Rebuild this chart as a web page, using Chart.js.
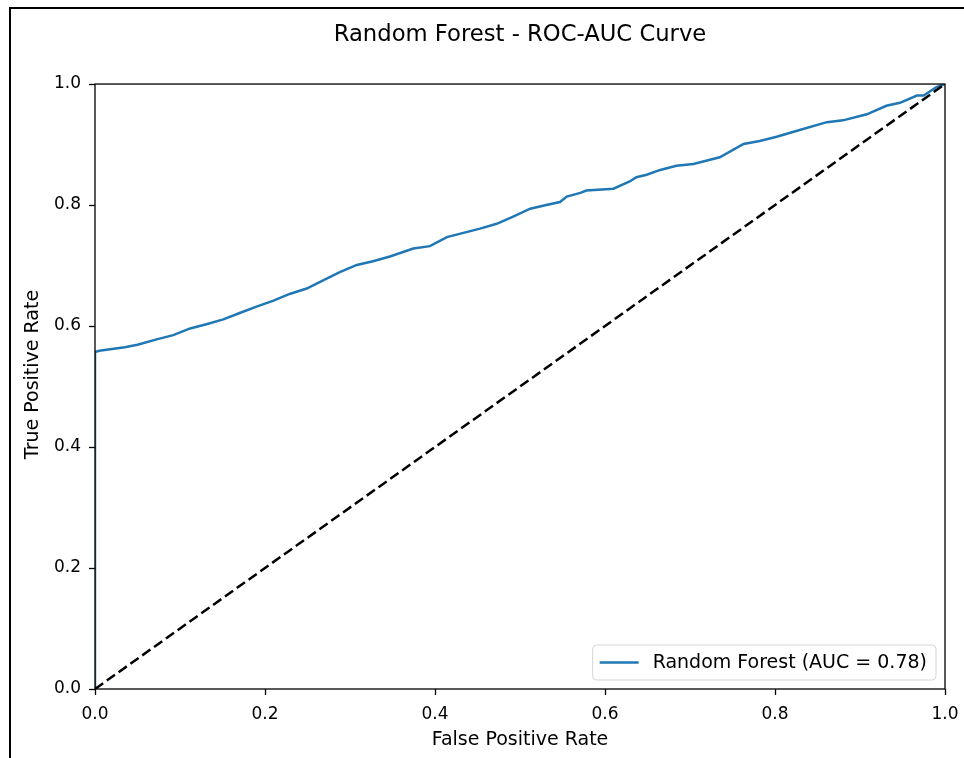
<!DOCTYPE html>
<html>
<head>
<meta charset="utf-8">
<script src="https://cdn.jsdelivr.net/npm/chart.js@4.4.1/dist/chart.umd.min.js"></script>
<style>
  html, body { margin: 0; padding: 0; background: #fff; }
  #wrap { position: relative; width: 964px; height: 758px; overflow: hidden; background: #fff; }
  #frame { position: absolute; left: 9px; top: 7px; right: -10px; bottom: -10px;
           border-left: 2px solid #000; border-top: 2px solid #000; }
  #c { position: absolute; left: 0; top: 0; }
</style>
</head>
<body>
<div id="wrap">
  <div id="frame"></div>
  <canvas id="c" width="964" height="758"></canvas>
</div>
<script>
// ---- data ----
const chartTitle = 'Random Forest - ROC-AUC Curve';
const xAxisLabel = 'False Positive Rate';
const yAxisLabel = 'True Positive Rate';
const rocLabel = 'Random Forest (AUC = 0.78)';

const fpr = [0, 0, 0.005, 0.02, 0.035, 0.05, 0.0725, 0.092, 0.112, 0.131, 0.151, 0.171, 0.19, 0.21,
  0.229, 0.249, 0.269, 0.288, 0.308, 0.327, 0.347, 0.3745, 0.394, 0.414, 0.453, 0.4725, 0.492,
  0.512, 0.531, 0.547, 0.555, 0.571, 0.578, 0.61, 0.629, 0.637, 0.649, 0.665, 0.684, 0.704,
  0.735, 0.763, 0.782, 0.802, 0.829, 0.861, 0.880, 0.908, 0.931, 0.947, 0.967, 0.975, 0.990, 1.0];
const tpr = [0, 0.557, 0.559, 0.562, 0.565, 0.569, 0.578, 0.585, 0.596, 0.603, 0.611, 0.622, 0.632, 0.642,
  0.653, 0.662, 0.676, 0.689, 0.701, 0.707, 0.715, 0.728, 0.732, 0.747, 0.761, 0.769, 0.781,
  0.794, 0.800, 0.805, 0.814, 0.820, 0.824, 0.827, 0.839, 0.846, 0.850, 0.858, 0.865, 0.868,
  0.879, 0.901, 0.906, 0.913, 0.924, 0.937, 0.940, 0.950, 0.964, 0.969, 0.981, 0.981, 0.995, 1.0];
const chanceX = [0, 1];
const chanceY = [0, 1];
const tickValues = [0, 0.2, 0.4, 0.6, 0.8, 1.0];

// ---- build library structures ----
const rocPoints = fpr.map((x, i) => ({ x: x, y: tpr[i] }));
const chancePoints = chanceX.map((x, i) => ({ x: x, y: chanceY[i] }));

const FONT = "'DejaVu Sans', 'Liberation Sans', sans-serif";

const framePlugin = {
  id: 'frameAndLegend',
  afterDraw(chart) {
    const { ctx, chartArea: a } = chart;
    ctx.save();
    // axes spines
    ctx.strokeStyle = '#000';
    ctx.lineWidth = 1.3;
    ctx.strokeRect(a.left, a.top, a.right - a.left, a.bottom - a.top);

    // y axis label (placed slightly above the axes centre, as in the reference)
    ctx.save();
    ctx.font = '19px ' + FONT;
    ctx.fillStyle = '#000';
    ctx.textAlign = 'center';
    ctx.textBaseline = 'middle';
    ctx.translate(33, (a.top + a.bottom) / 2 - 12);
    ctx.rotate(-Math.PI / 2);
    ctx.fillText(yAxisLabel, 0, 0);
    ctx.restore();

    // legend (matplotlib style, lower right inside axes)
    const ds = chart.data.datasets[0];
    ctx.font = '19px ' + FONT;
    const tw = ctx.measureText(ds.label).width;
    const h = 35;
    const right = a.right - 9;
    const bottom = a.bottom - 9;
    const handleLen = 39, padL = 7, gap = 14, padR = 9;
    const w = padL + handleLen + gap + tw + padR;
    const left = right - w, top = bottom - h;
    const r = 4;
    ctx.beginPath();
    ctx.moveTo(left + r, top);
    ctx.lineTo(right - r, top);
    ctx.quadraticCurveTo(right, top, right, top + r);
    ctx.lineTo(right, bottom - r);
    ctx.quadraticCurveTo(right, bottom, right - r, bottom);
    ctx.lineTo(left + r, bottom);
    ctx.quadraticCurveTo(left, bottom, left, bottom - r);
    ctx.lineTo(left, top + r);
    ctx.quadraticCurveTo(left, top, left + r, top);
    ctx.closePath();
    ctx.fillStyle = 'rgba(255,255,255,0.8)';
    ctx.fill();
    ctx.strokeStyle = '#d6d6d6';
    ctx.lineWidth = 1;
    ctx.stroke();
    const cy = top + h / 2;
    ctx.beginPath();
    ctx.strokeStyle = ds.borderColor;
    ctx.lineWidth = 2.5;
    ctx.moveTo(left + padL, cy);
    ctx.lineTo(left + padL + handleLen, cy);
    ctx.stroke();
    ctx.fillStyle = '#000';
    ctx.textBaseline = 'middle';
    ctx.textAlign = 'left';
    ctx.fillText(ds.label, left + padL + handleLen + gap, cy + 1);
    ctx.restore();
  }
};

new Chart(document.getElementById('c'), {
  type: 'scatter',
  data: {
    datasets: [
      {
        label: rocLabel,
        data: rocPoints,
        showLine: true,
        borderColor: '#1f77b4',
        backgroundColor: '#1f77b4',
        borderWidth: 2.5,
        pointRadius: 0,
        pointHoverRadius: 0,
        tension: 0,
        order: 2
      },
      {
        label: 'chance',
        data: chancePoints,
        showLine: true,
        borderColor: '#000',
        backgroundColor: '#000',
        borderWidth: 2.5,
        borderDash: [10, 4.5],
        pointRadius: 0,
        pointHoverRadius: 0,
        order: 1
      }
    ]
  },
  options: {
    responsive: false,
    animation: false,
    devicePixelRatio: 1,
    layout: { padding: { left: 0, right: 19, top: 0, bottom: 0 } },
    plugins: {
      legend: { display: false },
      tooltip: { enabled: false },
      title: {
        display: true,
        fullSize: false,
        text: chartTitle,
        color: '#000',
        font: { family: FONT, size: 22.7, weight: 'normal' },
        padding: { top: 21.4, bottom: 35.4 }
      }
    },
    scales: {
      x: {
        type: 'linear',
        min: 0, max: 1,
        afterBuildTicks: s => { s.ticks = tickValues.map(v => ({ value: v })); },
        afterFit: s => { s.height = 69; s.paddingLeft = 0; s.paddingRight = 0; },
        ticks: {
          color: '#000',
          font: { family: FONT, size: 17 },
          padding: 9,
          maxRotation: 0,
          callback: v => Number(v).toFixed(1)
        },
        grid: { display: true, drawOnChartArea: false, drawTicks: true, tickLength: 6, tickColor: '#000', tickWidth: 1.3 },
        border: { display: false },
        title: {
          display: true,
          text: xAxisLabel,
          color: '#000',
          font: { family: FONT, size: 19 },
          padding: { top: 0, bottom: 6.6 }
        }
      },
      y: {
        type: 'linear',
        min: 0, max: 1,
        afterBuildTicks: s => { s.ticks = tickValues.map(v => ({ value: v })); },
        afterFit: s => { s.width = 95; s.paddingTop = 0; s.paddingBottom = 0; },
        ticks: {
          color: '#000',
          font: { family: FONT, size: 17 },
          padding: 8,
          callback: v => Number(v).toFixed(1)
        },
        grid: { display: true, drawOnChartArea: false, drawTicks: true, tickLength: 6, tickColor: '#000', tickWidth: 1.3 },
        border: { display: false },
        title: { display: false }
      }
    }
  },
  plugins: [framePlugin]
});
</script>
</body>
</html>
